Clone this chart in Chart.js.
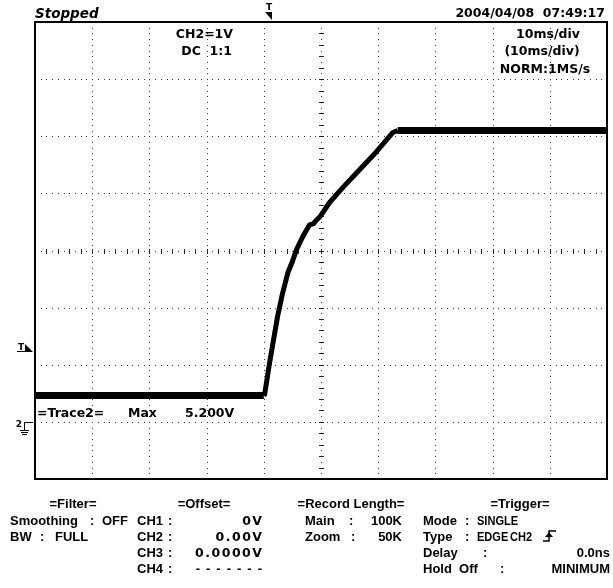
<!DOCTYPE html>
<html><head><meta charset="utf-8">
<script src="https://cdn.jsdelivr.net/npm/chart.js@4/dist/chart.umd.min.js"></script>
<style>
html,body{margin:0;padding:0;background:#fff;}
#wrap{position:relative;width:613px;height:588px;overflow:hidden;background:#fff;}
#c{position:absolute;left:0;top:0;width:613px;height:588px;}
.t{position:absolute;white-space:pre;color:#000;line-height:1;}
.b{font:bold 13px "Liberation Sans",Arial,sans-serif;}
.w{font:bold 12.5px "DejaVu Sans",sans-serif;letter-spacing:1.5px;}
.ww{font:bold 13px "Liberation Sans",Arial,sans-serif;letter-spacing:6px;}
.n{font:bold 13px "Liberation Sans",Arial,sans-serif;transform-origin:0 50%;}
.d{font:bold 12.5px "DejaVu Sans",sans-serif;}
.s{font:bold oblique 13.5px "DejaVu Sans",sans-serif;}
.m{font:bold 9px "DejaVu Sans",sans-serif;}
</style></head><body>
<div id="wrap"><canvas id="c" width="613" height="588"></canvas></div>
<script>
// ---- data (time in ms from trigger, CH2 volts) ----
const timeMs   = [-40, 0.0, 0.15, 1.0, 2.4, 3.3, 4.2, 4.9, 5.7, 6.8, 8.0, 8.7, 9.1, 9.8, 11.5, 13.8, 16.7, 19.7, 22.5, 23.4, 60];
const ch2Volts = [0.46, 0.46, 0.48, 1.03, 1.84, 2.26, 2.61, 2.78, 3.01, 3.24, 3.45, 3.47, 3.52, 3.59, 3.84, 4.10, 4.41, 4.73, 5.06, 5.10, 5.10];
// screen divisions (10 ms/div, 1 V/div)
const xDivisionsMs = [-30, -20, -10, 0, 10, 20, 30, 40, 50];
const yDivisionsV  = [0, 1, 2, 3, 4, 5, 6];
const xRangeMs = [-40, 60];
const yRangeV  = [-1, 7];
const centerTimeMs = 10, centerVolts = 3;
const triggerTimeMs = 0, triggerLevelV = 1.3, groundV = 0;

// ---- text annotations: [text, x, y(center), align, class] ----
const R1 = 503, R2 = 520, R3 = 536, R4 = 552, R5 = 568;
const labels = [
  ["Stopped", 35, 13, "l", "s"],
  ["2004/04/08  07:49:17", 605, 12, "r", "d"],
  ["CH2=1V", 233, 33, "r", "d"],
  ["DC  1:1", 232, 50, "r", "d"],
  ["10ms/div", 548, 33, "c", "d"],
  ["(10ms/div)", 542, 50, "c", "d"],
  ["NORM:1MS/s", 545, 68, "c", "d"],
  ["=Trace2=", 37, 412, "l", "d"],
  ["Max", 128, 412, "l", "d"],
  ["5.200V", 185, 412, "l", "d"],
  ["=Filter=", 73, R1, "c", "b"],
  ["Smoothing", 10, R2, "l", "b"], [":", 90, R2, "l", "b"], ["OFF", 128, R2, "r", "b"],
  ["BW", 10, R3, "l", "b"], [":", 40, R3, "l", "b"], ["FULL", 55, R3, "l", "b"],
  ["=Offset=", 204, R1, "c", "b"],
  ["CH1", 137, R2, "l", "b"], [":", 168, R2, "l", "b"], ["0V", 263.5, R2, "r", "w"],
  ["CH2", 137, R3, "l", "b"], [":", 168, R3, "l", "b"], ["0.00V", 263.5, R3, "r", "w"],
  ["CH3", 137, R4, "l", "b"], [":", 168, R4, "l", "b"], ["0.0000V", 263.5, R4, "r", "w"],
  ["CH4", 137, R5, "l", "b"], [":", 168, R5, "l", "b"], ["-------", 268, R5, "r", "ww"],
  ["=Record Length=", 351, R1, "c", "b"],
  ["Main", 305, R2, "l", "b"], [":", 349, R2, "l", "b"], ["100K", 402, R2, "r", "b"],
  ["Zoom", 305, R3, "l", "b"], [":", 351, R3, "l", "b"], ["50K", 402, R3, "r", "b"],
  ["=Trigger=", 520, R1, "c", "b"],
  ["Mode", 423, R2, "l", "b"], [":", 465, R2, "l", "b"], ["SINGLE", 477, R2, "l", "n"],
  ["Type", 423, R3, "l", "b"], [":", 465, R3, "l", "b"], ["EDGE", 477, R3, "l", "n"], ["CH2", 510, R3, "l", "n"],
  ["Delay", 423, R4, "l", "b"], [":", 483, R4, "l", "b"], ["0.0ns", 610, R4, "r", "b"],
  ["Hold  Off", 423, R5, "l", "b"], [":", 500, R5, "l", "b"], ["MINIMUM", 610, R5, "r", "b"],
  ["T", 269, 7, "c", "m"],
  ["T", 21, 347, "c", "m"],
  ["2", 19, 424, "c", "m"]
];
const wrap = document.getElementById('wrap');
for (const [txt, x, y, al, cls] of labels) {
  const d = document.createElement('div');
  d.className = 't ' + cls;
  d.textContent = txt;
  d.style.left = x + 'px';
  wrap.appendChild(d);
  const h = d.getBoundingClientRect().height;
  d.style.top = (y - h / 2) + 'px';
  if (cls === 'n') d.style.transform = 'scaleX(0.85)';
  else d.style.transform = al === 'r' ? 'translateX(-100%)' : al === 'c' ? 'translateX(-50%)' : 'none';
}

const scopeDecor = {
  id: 'scopeDecor',
  beforeDatasetsDraw(chart) {
    const {ctx, chartArea: a, scales: {x, y}} = chart;
    ctx.save();
    ctx.fillStyle = '#333';
    const W = a.right - a.left, H = a.bottom - a.top;
    for (const v of xDivisionsMs) {
      const px = Math.round(x.getPixelForValue(v));
      for (let k = 1; k < 80; k++) ctx.fillRect(px, Math.round(a.top + k * H / 80), 1, 1);
    }
    for (const v of yDivisionsV) {
      const py = Math.round(y.getPixelForValue(v));
      for (let k = 1; k < 100; k++) ctx.fillRect(Math.round(a.left + k * W / 100), py, 1, 1);
    }
    const cx = Math.round(x.getPixelForValue(centerTimeMs));
    const cy = Math.round(y.getPixelForValue(centerVolts));
    ctx.fillStyle = '#222';
    for (let k = 1; k < 50; k++) {
      const px = Math.round(a.left + k * W / 50);
      ctx.fillRect(px, cy - 2, 1, 5);
    }
    for (let k = 1; k < 40; k++) {
      const py = Math.round(a.top + k * H / 40);
      ctx.fillRect(cx - 2, py, 5, 1);
    }
    ctx.restore();
  },
  afterDraw(chart) {
    const {ctx, chartArea: a, scales: {x, y}} = chart;
    ctx.save();
    ctx.strokeStyle = '#000';
    ctx.lineWidth = 2;
    ctx.strokeRect(a.left, a.top, a.right - a.left, a.bottom - a.top);
    ctx.fillStyle = '#000';
    const tx = Math.round(x.getPixelForValue(triggerTimeMs));
    ctx.beginPath(); ctx.moveTo(tx + 1, 12); ctx.lineTo(tx + 8, 12); ctx.lineTo(tx + 8, 20); ctx.closePath(); ctx.fill();
    const ty = Math.round(y.getPixelForValue(triggerLevelV));
    ctx.fillRect(17, ty + 3, 8, 1);
    ctx.beginPath(); ctx.moveTo(25, ty - 4); ctx.lineTo(33, ty + 4); ctx.lineTo(25, ty + 4); ctx.closePath(); ctx.fill();
    const gy = Math.round(y.getPixelForValue(groundV));
    ctx.fillRect(24, gy, 9, 1);
    ctx.fillRect(24, gy, 1, 9);
    ctx.fillRect(20, gy + 8, 9, 1);
    ctx.fillRect(21, gy + 10, 7, 1);
    ctx.fillRect(22, gy + 12, 5, 1);
    ctx.lineWidth = 1.5;
    ctx.beginPath(); ctx.moveTo(543, 541); ctx.lineTo(549, 541); ctx.lineTo(549, 531); ctx.lineTo(556, 531); ctx.stroke();
    ctx.beginPath(); ctx.moveTo(545, 537); ctx.lineTo(553, 537); ctx.lineTo(549, 532); ctx.closePath(); ctx.fill();
    ctx.restore();
  }
};

new Chart(document.getElementById('c'), {
  type: 'line',
  data: {
    datasets: [{
      data: timeMs.map((t, i) => ({x: t, y: ch2Volts[i]})),
      borderColor: '#000',
      borderWidth: 5,
      pointRadius: 0,
      tension: 0,
      clip: 0,
      borderJoinStyle: 'round',
      borderCapStyle: 'butt',
      segment: {
        borderWidth: c => (c.p0.parsed.y === c.p1.parsed.y ? 7 : 5)
      }
    }]
  },
  options: {
    responsive: false,
    animation: false,
    devicePixelRatio: 1,
    layout: {padding: {left: 35, top: 22, right: 6, bottom: 109}},
    plugins: {legend: {display: false}, tooltip: {enabled: false}},
    scales: {
      x: {type: 'linear', display: false, min: xRangeMs[0], max: xRangeMs[1]},
      y: {type: 'linear', display: false, min: yRangeV[0], max: yRangeV[1]}
    }
  },
  plugins: [scopeDecor]
});
</script>
</body></html>
